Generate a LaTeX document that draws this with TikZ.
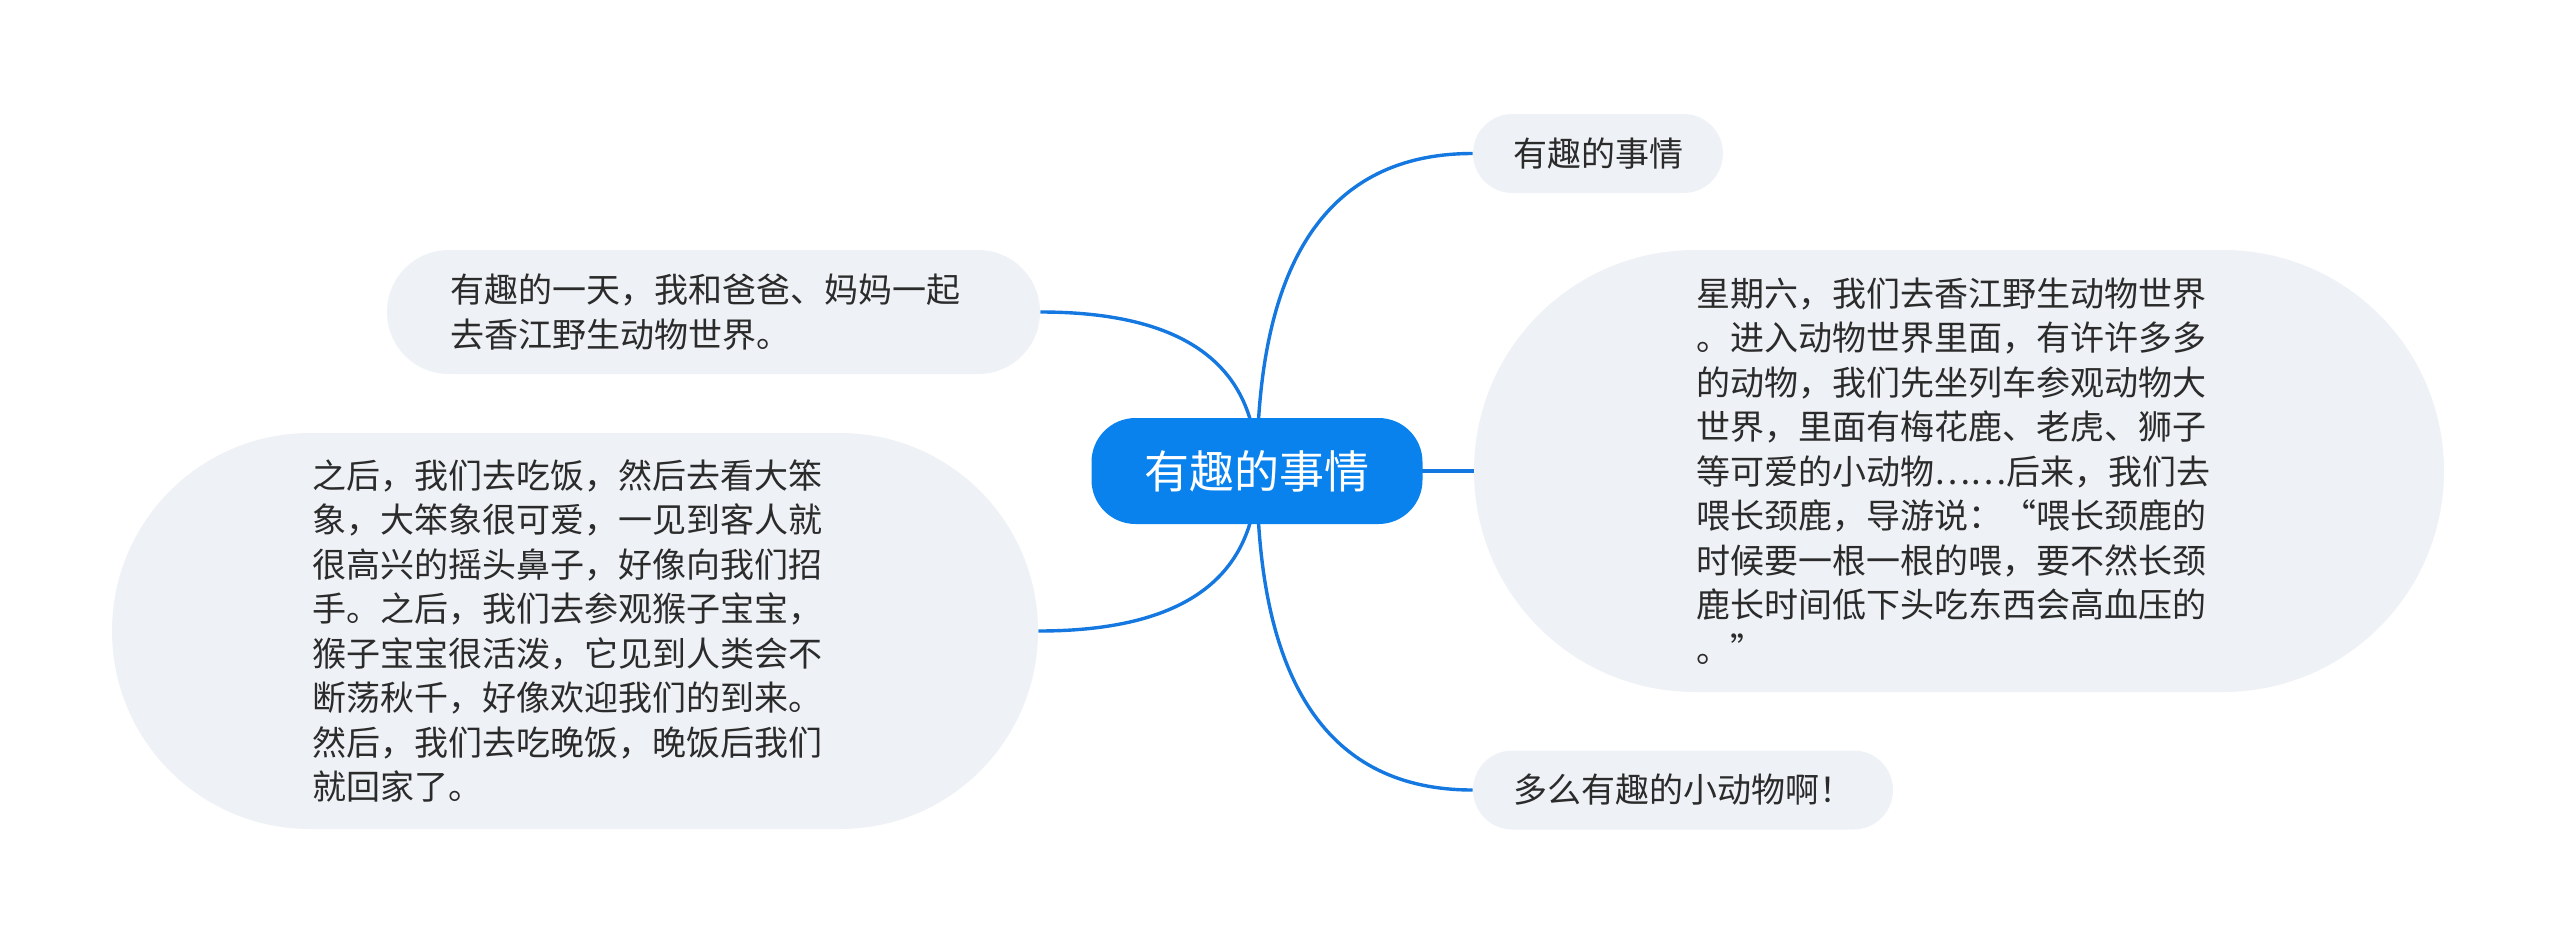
\documentclass[tikz,border=0pt]{standalone}
\usepackage{fontspec}
\setmainfont{Noto Sans CJK SC}
\usetikzlibrary{calc,backgrounds}
\definecolor{mainblue}{HTML}{0A82EE}
\definecolor{linkblue}{HTML}{1478E0}
\definecolor{boxgray}{HTML}{EEF1F5}
\definecolor{txt}{HTML}{2B2B2B}
\newcommand\quadlink[2]{\draw[link] (#1) .. controls ($(#1)!2/3!(#1 |- #2)$) and ($(#2)!2/3!(#1 |- #2)$) .. (#2);}
\begin{document}
\begin{tikzpicture}[x=0.5pt,y=-0.5pt,
  topic/.style={fill=boxgray, text=txt, font=\fontsize{17}{22.25}\selectfont, align=left, inner sep=0pt},
  para/.style={topic, text width=263pt},
  link/.style={draw=linkblue, line width=1.7pt}]
\useasboundingbox (0,0) rectangle (2560,943);
\node[fill=mainblue, text=white, rounded corners=22pt, minimum width=165.5pt, minimum height=53pt, inner sep=0pt, font=\fontsize{22.5}{27}\selectfont] (c) at (1257,471) {有趣的事情};
\node[topic, rounded corners=19.7pt, minimum width=125pt, minimum height=39.5pt] (tr) at (1598,153.5) {有趣的事情};
\node[para, rounded corners=30.9pt, minimum width=326.5pt, minimum height=62pt] (tl) at (713.5,312) {有趣的一天，我和爸爸、妈妈一起\\去香江野生动物世界。};
\node[para, rounded corners=98.9pt, minimum width=463pt, minimum height=198pt] (bl) at (575,631) {之后，我们去吃饭，然后去看大笨\\象，大笨象很可爱，一见到客人就\\很高兴的摇头鼻子，好像向我们招\\手。之后，我们去参观猴子宝宝，\\猴子宝宝很活泼，它见到人类会不\\断荡秋千，好像欢迎我们的到来。\\然后，我们去吃晚饭，晚饭后我们\\就回家了。};
\node[para, rounded corners=110.4pt, minimum width=485pt, minimum height=221pt] (r) at (1959,471) {星期六，我们去香江野生动物世界\\。进入动物世界里面，有许许多多\\的动物，我们先坐列车参观动物大\\世界，里面有梅花鹿、老虎、狮子\\等可爱的小动物……后来，我们去\\喂长颈鹿，导游说：“喂长颈鹿的\\时候要一根一根的喂，要不然长颈\\鹿长时间低下头吃东西会高血压的\\。”};
\node[topic, rounded corners=19.7pt, minimum width=210pt, minimum height=39.5pt] (br) at (1683,790) {多么有趣的小动物啊！};
\begin{scope}[on background layer]
\quadlink{c.center}{tr.west}
\quadlink{c.center}{tl.east}
\quadlink{c.center}{bl.east}
\quadlink{c.center}{br.west}
\draw[link] (c.center) -- (r.west);
\end{scope}
\end{tikzpicture}
\end{document}
